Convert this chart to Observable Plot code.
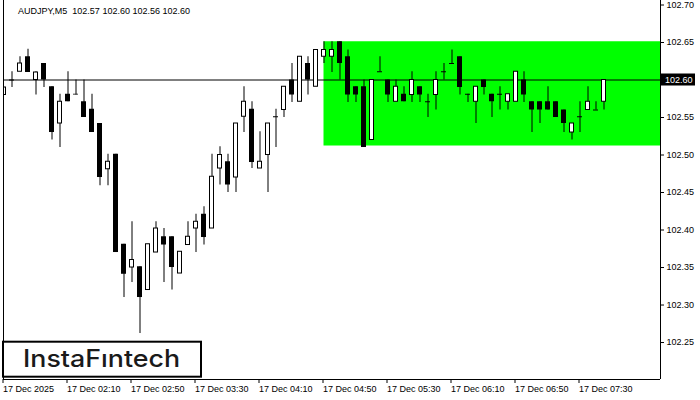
<!DOCTYPE html>
<html><head><meta charset="utf-8">
<script src="https://cdn.jsdelivr.net/npm/d3@7"></script>
<script src="https://cdn.jsdelivr.net/npm/@observablehq/plot@0.6"></script>
<style>
html,body{margin:0;padding:0;background:#fff;}
#chart{width:700px;height:400px;}
</style></head><body><div id="chart"></div>
<script>
const symbol = "AUDJPY,M5";
const lastBar = ["102.57", "102.60", "102.56", "102.60"];
const opens = [102.580,102.600,102.611,102.631,102.600,102.622,102.591,102.542,102.581,102.581,
  102.571,102.561,102.542,102.481,102.501,102.381,102.350,102.351,102.320,102.370,
  102.391,102.391,102.342,102.380,102.402,102.421,102.402,102.482,102.491,102.470,
  102.551,102.561,102.482,102.500,102.551,102.560,102.600,102.571,102.622,102.591,
  102.631,102.631,102.651,102.631,102.591,102.591,102.520,102.611,102.600,102.571,
  102.581,102.580,102.591,102.571,102.580,102.611,102.622,102.631,102.581,102.571,
  102.600,102.581,102.581,102.571,102.571,102.600,102.571,102.571,102.571,102.571,
  102.560,102.530,102.551,102.560,102.560,102.571];
const highs = [102.590,102.611,102.631,102.641,102.611,102.622,102.591,102.581,102.611,102.600,
  102.600,102.581,102.542,102.501,102.501,102.381,102.411,102.351,102.381,102.411,
  102.402,102.391,102.371,102.411,102.421,102.431,102.501,102.511,102.501,102.542,
  102.591,102.571,102.531,102.542,102.561,102.591,102.622,102.631,102.631,102.640,
  102.651,102.651,102.651,102.640,102.591,102.600,102.600,102.631,102.600,102.600,
  102.591,102.611,102.591,102.581,102.611,102.622,102.640,102.631,102.581,102.591,
  102.600,102.581,102.591,102.581,102.611,102.611,102.571,102.571,102.591,102.571,
  102.560,102.542,102.571,102.591,102.571,102.600];
const lows = [102.580,102.590,102.611,102.610,102.580,102.590,102.520,102.510,102.571,102.580,
  102.550,102.530,102.459,102.459,102.370,102.310,102.330,102.262,102.320,102.370,
  102.330,102.320,102.342,102.380,102.370,102.380,102.402,102.460,102.450,102.450,
  102.530,102.482,102.482,102.450,102.510,102.550,102.570,102.571,102.580,102.591,
  102.622,102.610,102.600,102.570,102.570,102.510,102.520,102.611,102.570,102.571,
  102.571,102.570,102.570,102.550,102.560,102.600,102.622,102.580,102.570,102.542,
  102.580,102.550,102.560,102.560,102.571,102.570,102.530,102.542,102.560,102.550,
  102.530,102.520,102.530,102.560,102.560,102.560];
const closes = [102.590,102.600,102.622,102.610,102.610,102.600,102.530,102.571,102.571,102.580,
  102.550,102.530,102.470,102.491,102.370,102.341,102.360,102.310,102.381,102.402,
  102.380,102.350,102.371,102.391,102.411,102.390,102.471,102.500,102.460,102.542,
  102.571,102.490,102.491,102.542,102.551,102.591,102.580,102.631,102.600,102.640,
  102.640,102.640,102.622,102.580,102.580,102.510,102.600,102.611,102.580,102.591,
  102.571,102.600,102.580,102.571,102.600,102.611,102.622,102.590,102.581,102.591,
  102.590,102.571,102.581,102.581,102.611,102.580,102.560,102.560,102.560,102.550,
  102.542,102.542,102.551,102.571,102.560,102.600];
const xTickIndex = [0, 8, 16, 24, 32, 40, 48, 56, 64, 72];
const xTickLabels = ["17 Dec 2025", "17 Dec 02:10", "17 Dec 02:50", "17 Dec 03:30", "17 Dec 04:10",
  "17 Dec 04:50", "17 Dec 05:30", "17 Dec 06:10", "17 Dec 06:50", "17 Dec 07:30"];
const yTicks = [102.25, 102.30, 102.35, 102.40, 102.45, 102.50, 102.55, 102.60, 102.65, 102.70];
const currentPrice = 102.60;
const zoneStart = 40;
const zoneHigh = 102.651;
const zoneLow = 102.512;
const logoText = "InstaFıntech";

const candles = opens.map((o, i) => ({i, open: o, high: highs[i], low: lows[i], close: closes[i]}));
const upBars = candles.filter(d => d.close > d.open);
const downBars = candles.filter(d => d.close < d.open);
const dojis = candles.filter(d => d.close === d.open);
const xDomain = [-0.0625, 82.0625];
const yDomain = [102.2007, 102.706];
const FONT = '"Liberation Sans", Arial, sans-serif';

const plot = Plot.plot({
  width: 700, height: 400,
  marginLeft: 3, marginRight: 40, marginTop: 0, marginBottom: 21,
  style: {fontFamily: FONT, fontSize: "9px", color: "#000", background: "#fff", overflow: "visible"},
  x: {type: "linear", domain: xDomain, range: [3, 660], label: null},
  y: {type: "linear", domain: yDomain, range: [379, 0], label: null},
  marks: [
    Plot.rect([{start: zoneStart, end: xDomain[1], low: zoneLow, high: zoneHigh}],
      {x1: "start", x2: "end", y1: "low", y2: "high", fill: "#00ff00"}),
    Plot.ruleY([currentPrice], {stroke: "#000", strokeWidth: 1}),
    Plot.ruleX(candles, {x: "i", y1: "low", y2: "high", stroke: "#000", clip: true}),
    Plot.rect(downBars, {x1: d => d.i - 0.3125, x2: d => d.i + 0.3125, y1: "open", y2: "close", fill: "#000", clip: true}),
    Plot.rect(upBars, {x1: d => d.i - 0.25, x2: d => d.i + 0.25, y1: "open", y2: "close", fill: "#fff", stroke: "#000", clip: true}),
    Plot.ruleY(dojis, {y: "open", x1: d => d.i - 0.3125, x2: d => d.i + 0.3125, stroke: "#000", clip: true}),
    Plot.axisY({anchor: "right", ticks: yTicks,
      tickFormat: d => Math.abs(d - currentPrice) < 1e-9 ? "" : d.toFixed(2),
      tickSize: 3, tickPadding: 3, label: null}),
    Plot.axisX({anchor: "bottom", ticks: xTickIndex, tickFormat: d => xTickLabels[xTickIndex.indexOf(d)],
      tickSize: 4, tickPadding: 2, textAnchor: "start", dx: -1, label: null}),
    Plot.ruleX([xDomain[0], xDomain[1]], {stroke: "#000"}),
    Plot.ruleY([yDomain[0]], {stroke: "#000"})
  ]
});

const svg = d3.select(plot);
const yS = plot.scale("y");
const py = yS.apply(currentPrice);

// header
svg.append("text").attr("x", 18).attr("y", 14).attr("text-anchor", "start")
  .attr("font-family", FONT).attr("font-size", 9)
  .attr("fill", "#000").attr("xml:space", "preserve").style("white-space", "pre")
  .text(symbol + "  " + lastBar.join(" "));

// current price tag
svg.append("rect").attr("x", 661).attr("y", py - 6).attr("width", 34).attr("height", 12).attr("fill", "#000");
svg.append("text").attr("x", 665).attr("y", py + 3.5).attr("text-anchor", "start")
  .attr("font-family", FONT).attr("font-size", 9)
  .attr("fill", "#fff").text(currentPrice.toFixed(2));

// logo
svg.append("rect").attr("x", 3).attr("y", 341.7).attr("width", 198).attr("height", 35)
  .attr("fill", "#fff").attr("stroke", "#000").attr("stroke-width", 2);
svg.append("text").attr("x", 101.5).attr("y", 367).attr("text-anchor", "middle")
  .attr("font-family", "Inter, Lato, sans-serif").attr("font-weight", 500).attr("font-size", 24)
  .attr("fill", "#1a1a1a").attr("textLength", 157).attr("lengthAdjust", "spacingAndGlyphs")
  .text(logoText);

document.getElementById("chart").appendChild(plot);
</script></body></html>
